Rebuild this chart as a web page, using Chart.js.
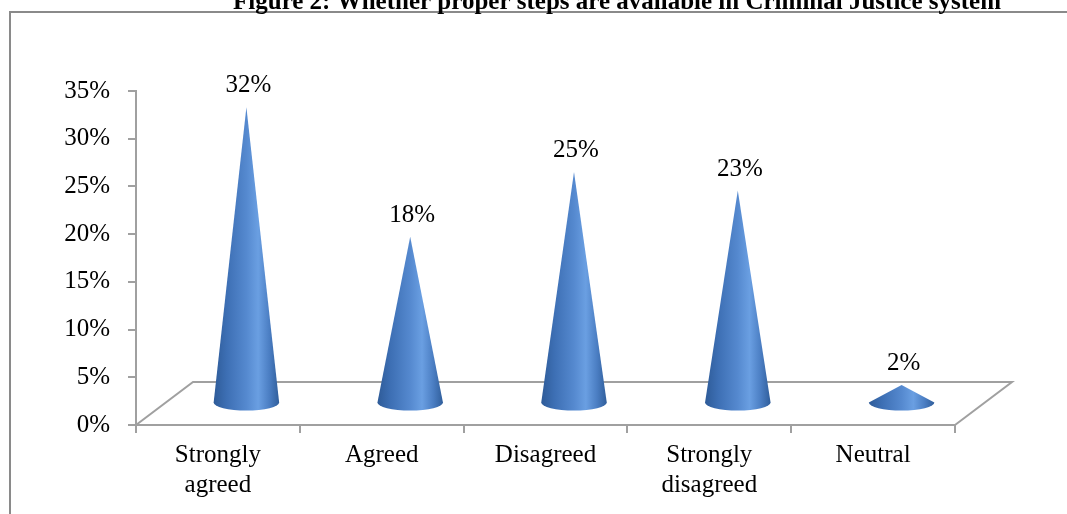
<!DOCTYPE html>
<html>
<head>
<meta charset="utf-8">
<script src="https://cdn.jsdelivr.net/npm/chart.js@4.4.0/dist/chart.umd.min.js"></script>
<style>
  html, body { margin: 0; padding: 0; background: #ffffff; }
  #wrap { width: 1067px; height: 514px; position: relative; }
</style>
</head>
<body>
<div id="wrap"><canvas id="c" width="1067" height="514"></canvas></div>
<script>
const titleText = 'Figure 2: Whether proper steps are available in Criminal Justice system';
const categories = [['Strongly', 'agreed'], ['Agreed'], ['Disagreed'], ['Strongly', 'disagreed'], ['Neutral']];
const values = [32, 18, 25, 23, 2];
const yTicks = [0, 5, 10, 15, 20, 25, 30, 35];

const FONT = '"Liberation Serif", "Times New Roman", serif';
const AXIS_GRAY = '#a0a0a0';
const DEPTH_X = 57, DEPTH_Y = 43;

const framePlugin = {
  id: 'frame',
  beforeDraw(chart) {
    const ctx = chart.ctx;
    ctx.save();
    ctx.fillStyle = '#ffffff';
    ctx.fillRect(0, 0, chart.width, chart.height);
    // outer box
    ctx.strokeStyle = '#8a8a8a';
    ctx.lineWidth = 2;
    ctx.beginPath();
    ctx.moveTo(10, chart.height + 5);
    ctx.lineTo(10, 12);
    ctx.lineTo(chart.width + 5, 12);
    ctx.stroke();
    // title
    ctx.fillStyle = '#000000';
    ctx.font = 'bold 25px ' + FONT;
    ctx.textAlign = 'center';
    ctx.textBaseline = 'alphabetic';
    ctx.fillText(titleText, 617, 9);
    ctx.restore();
  }
};

const floorPlugin = {
  id: 'floor',
  beforeDatasetsDraw(chart) {
    const ctx = chart.ctx;
    const x = chart.scales.x, y = chart.scales.y;
    const y0 = y.getPixelForValue(0);
    ctx.save();
    ctx.strokeStyle = AXIS_GRAY;
    ctx.lineWidth = 2;
    ctx.beginPath();
    ctx.moveTo(x.left, y0);
    ctx.lineTo(x.left + DEPTH_X, y0 - DEPTH_Y);
    ctx.lineTo(x.right + DEPTH_X, y0 - DEPTH_Y);
    ctx.lineTo(x.right, y0);
    ctx.stroke();
    ctx.restore();
  }
};

const conePlugin = {
  id: 'cones',
  afterDatasetsDraw(chart) {
    const ctx = chart.ctx;
    const meta = chart.getDatasetMeta(0);
    const ds = chart.data.datasets[0];
    ctx.save();
    meta.data.forEach((el, i) => {
      const cx = el.x + DEPTH_X / 2;
      const by = el.base - DEPTH_Y / 2;
      const h = (el.base - el.y) * 0.97;
      const tipY = by - h;
      const rx = el.width / 2;
      const ry = 8;
      const g = ctx.createLinearGradient(cx - rx, 0, cx + rx, 0);
      g.addColorStop(0, '#2e5b98');
      g.addColorStop(0.2, '#3d6fb4');
      g.addColorStop(0.5, '#5589cf');
      g.addColorStop(0.68, '#6a9fe2');
      g.addColorStop(0.85, '#4b7ec3');
      g.addColorStop(1, '#305e9b');
      ctx.fillStyle = g;
      ctx.beginPath();
      ctx.moveTo(cx, tipY);
      ctx.lineTo(cx + rx, by);
      ctx.ellipse(cx, by, rx, ry, 0, 0, Math.PI, false);
      ctx.lineTo(cx, tipY);
      ctx.closePath();
      ctx.fill();
      // value label
      ctx.fillStyle = '#000000';
      ctx.font = '25px ' + FONT;
      ctx.textAlign = 'center';
      ctx.textBaseline = 'alphabetic';
      ctx.fillText(ds.data[i] + '%', cx + 2, tipY - 15);
    });
    ctx.restore();
  }
};

new Chart(document.getElementById('c'), {
  type: 'bar',
  data: {
    labels: categories,
    datasets: [{
      data: values,
      backgroundColor: 'rgba(0,0,0,0)',
      borderWidth: 0,
      categoryPercentage: 1,
      barPercentage: 0.4
    }]
  },
  options: {
    responsive: false,
    animation: false,
    events: [],
    layout: { padding: { top: 91, right: 112, bottom: 0, left: 0 } },
    plugins: {
      legend: { display: false },
      tooltip: { enabled: false },
      title: { display: false }
    },
    scales: {
      y: {
        min: 0,
        max: 35,
        afterBuildTicks(scale) { scale.ticks = yTicks.map(v => ({ value: v })); },
        afterFit(scale) { scale.width = 136; },
        grid: { drawOnChartArea: false, drawTicks: true, tickLength: 8, color: AXIS_GRAY, lineWidth: 2 },
        border: { color: AXIS_GRAY, width: 2 },
        ticks: {
          padding: 18,
          color: '#000000',
          font: { family: FONT, size: 25 },
          callback: v => v + '%'
        }
      },
      x: {
        afterFit(scale) { scale.height = 89; },
        grid: { offset: true, drawOnChartArea: false, drawTicks: true, tickLength: 8, color: AXIS_GRAY, lineWidth: 2 },
        border: { color: AXIS_GRAY, width: 2 },
        ticks: {
          padding: 7,
          color: '#000000',
          maxRotation: 0,
          autoSkip: false,
          font: { family: FONT, size: 25, lineHeight: 1.2 }
        }
      }
    }
  },
  plugins: [framePlugin, floorPlugin, conePlugin]
});
</script>
</body>
</html>
